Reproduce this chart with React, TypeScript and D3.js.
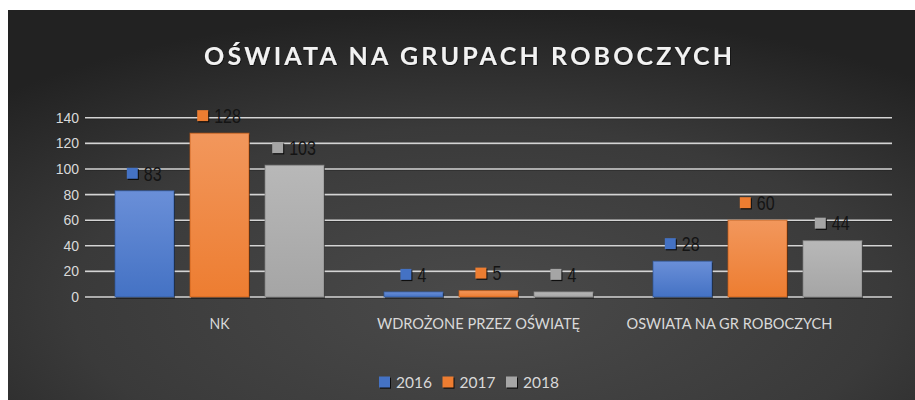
import React from "react";
import * as d3 from "d3";

const categories = ["NK", "WDROŻONE PRZEZ OŚWIATĘ", "OSWIATA NA GR ROBOCZYCH"];
const seriesNames = ["2016", "2017", "2018"];
const values2016 = [83, 4, 28];
const values2017 = [128, 5, 60];
const values2018 = [103, 4, 44];
const yTicks = [0, 20, 40, 60, 80, 100, 120, 140];
const title = "OŚWIATA NA GRUPACH ROBOCZYCH";

const seriesValues = [values2016, values2017, values2018];
const colors = ["#4472c4", "#ed7d31", "#a5a5a5"];
const topColors = ["#6a8fd8", "#f2975c", "#b8b8b8"];
const strokeColors = ["#2f5597", "#c55a11", "#7f7f7f"];

// layout
const W = 915;
const H = 400;
const plotLeft = 85;
const plotRight = 892;
const plotTop = 117.8;
const plotBottom = 297;
const centerX = 468;
const catLabelShift = [0, -10, -28];
const catLabelWidths = [20, 203, 206];

export default function App() {
  const x = d3.scaleBand<string>().domain(categories).range([plotLeft, plotRight]).paddingInner(0).paddingOuter(0);
  const groupWidth = 209;
  const xs = d3
    .scaleBand<string>()
    .domain(seriesNames)
    .range([(x.bandwidth() - groupWidth) / 2, (x.bandwidth() + groupWidth) / 2])
    .paddingInner(16 / 75)
    .paddingOuter(0);
  const y = d3.scaleLinear().domain([0, 140]).range([plotBottom, plotTop]);

  const font = "'Liberation Sans', Arial, sans-serif";
  const calib = "Lato, 'Open Sans', sans-serif";

  const legendStep = 63.5;
  const legendTotal = legendStep * 2 + 11 + 6 + 34;
  const legendStart = centerX - legendTotal / 2;

  return (
    <svg
      width={W}
      height={H}
      style={{ position: "absolute", left: 0, top: 0, display: "block" }}
      xmlns="http://www.w3.org/2000/svg"
    >
      <defs>
        <radialGradient id="bg" cx="52%" cy="75%" r="75%" fx="52%" fy="75%">
          <stop offset="0%" stopColor="#4a4a4a" />
          <stop offset="60%" stopColor="#3a3a3a" />
          <stop offset="100%" stopColor="#222222" />
        </radialGradient>
        {colors.map((c, i) => (
          <linearGradient key={i} id={`bar${i}`} x1="0" y1="0" x2="0" y2="1">
            <stop offset="0%" stopColor={topColors[i]} />
            <stop offset="100%" stopColor={c} />
          </linearGradient>
        ))}
        <filter id="txtShadow" x="-10%" y="-10%" width="120%" height="130%">
          <feDropShadow dx="0.6" dy="0.8" stdDeviation="0.4" floodColor="#000" floodOpacity="0.7" />
        </filter>
      </defs>
      <rect x={0} y={0} width={W} height={H} fill="#ffffff" />
      <rect x={8} y={10} width={W - 8} height={H - 10} fill="url(#bg)" />

      {/* title */}
      <text
        x={centerX}
        y={64.5}
        textAnchor="middle"
        fontFamily={calib}
        fontWeight={700}
        fontSize={25}
        fill="#f2f2f2"
        textLength={528}
        lengthAdjust="spacing"
        filter="url(#txtShadow)"
      >
        {title}
      </text>

      {/* gridlines */}
      {yTicks.map((t) => (
        <g key={t}>
          <line x1={plotLeft} x2={plotRight} y1={y(t) + 1} y2={y(t) + 1} stroke="#111" strokeOpacity={0.5} strokeWidth={1} />
          <line x1={plotLeft} x2={plotRight} y1={y(t)} y2={y(t)} stroke="#d4d4d4" strokeWidth={1.6} />
          <text
            x={79}
            y={y(t)}
            dy="0.35em"
            textAnchor="end"
            fontFamily={font}
            fontSize={14}
            fill="#d9d9d9"
          >
            {t}
          </text>
        </g>
      ))}

      {/* bars */}
      {categories.map((cat, ci) => (
        <g key={cat} transform={`translate(${x(cat)},0)`}>
          {seriesNames.map((s, si) => {
            const v = seriesValues[si][ci];
            const bx = xs(s) as number;
            const bw = xs.bandwidth();
            const top = y(v);
            const h = plotBottom - top;
            return (
              <g key={s}>
                <rect x={bx + 1} y={top + 1.5} width={bw} height={h} fill="#000" opacity={0.55} />
                <rect
                  x={bx}
                  y={top}
                  width={bw}
                  height={h}
                  fill={`url(#bar${si})`}
                  stroke={strokeColors[si]}
                  strokeWidth={1}
                  strokeOpacity={0.7}
                />
              </g>
            );
          })}
        </g>
      ))}

      {/* data labels */}
      {categories.map((cat, ci) => (
        <g key={cat} transform={`translate(${x(cat)},0)`}>
          {seriesNames.map((s, si) => {
            const v = seriesValues[si][ci];
            const cx = (xs(s) as number) + xs.bandwidth() / 2;
            const cy = y(v) - 17.5;
            const str = String(v);
            const textW = str.length * 9.2;
            const total = 11 + 6 + textW;
            const left = cx - total / 2;
            return (
              <g key={s}>
                <rect x={left + 1} y={cy - 5.5 + 1.2} width={11} height={11} fill="#000" opacity={0.8} />
                <rect x={left} y={cy - 5.5} width={11} height={11} fill={colors[si]} />
                <text
                  transform={`translate(${left + 17},${cy + 7.3}) scale(0.8,1)`}
                  fontFamily={font}
                  fontSize={20}
                  fill="#141414"
                >
                  {str}
                </text>
              </g>
            );
          })}
        </g>
      ))}

      {/* category labels */}
      {categories.map((cat, ci) => (
        <text
          key={cat}
          x={(x(cat) as number) + x.bandwidth() / 2 + catLabelShift[ci]}
          y={329}
          textAnchor="middle"
          fontFamily={calib}
          fontSize={15.5}
          fill="#d9d9d9"
          textLength={catLabelWidths[ci]}
          lengthAdjust="spacingAndGlyphs"
        >
          {cat}
        </text>
      ))}

      {/* legend */}
      {seriesNames.map((s, si) => {
        const lx = legendStart + si * legendStep;
        return (
          <g key={s}>
            <rect x={lx + 1} y={376.5 + 1.2} width={11} height={11} fill="#000" opacity={0.8} />
            <rect x={lx} y={376.5} width={11} height={11} fill={colors[si]} />
            <text x={lx + 17} y={387.5} fontFamily={calib} fontSize={15.5} fill="#d9d9d9">
              {s}
            </text>
          </g>
        );
      })}
    </svg>
  );
}
